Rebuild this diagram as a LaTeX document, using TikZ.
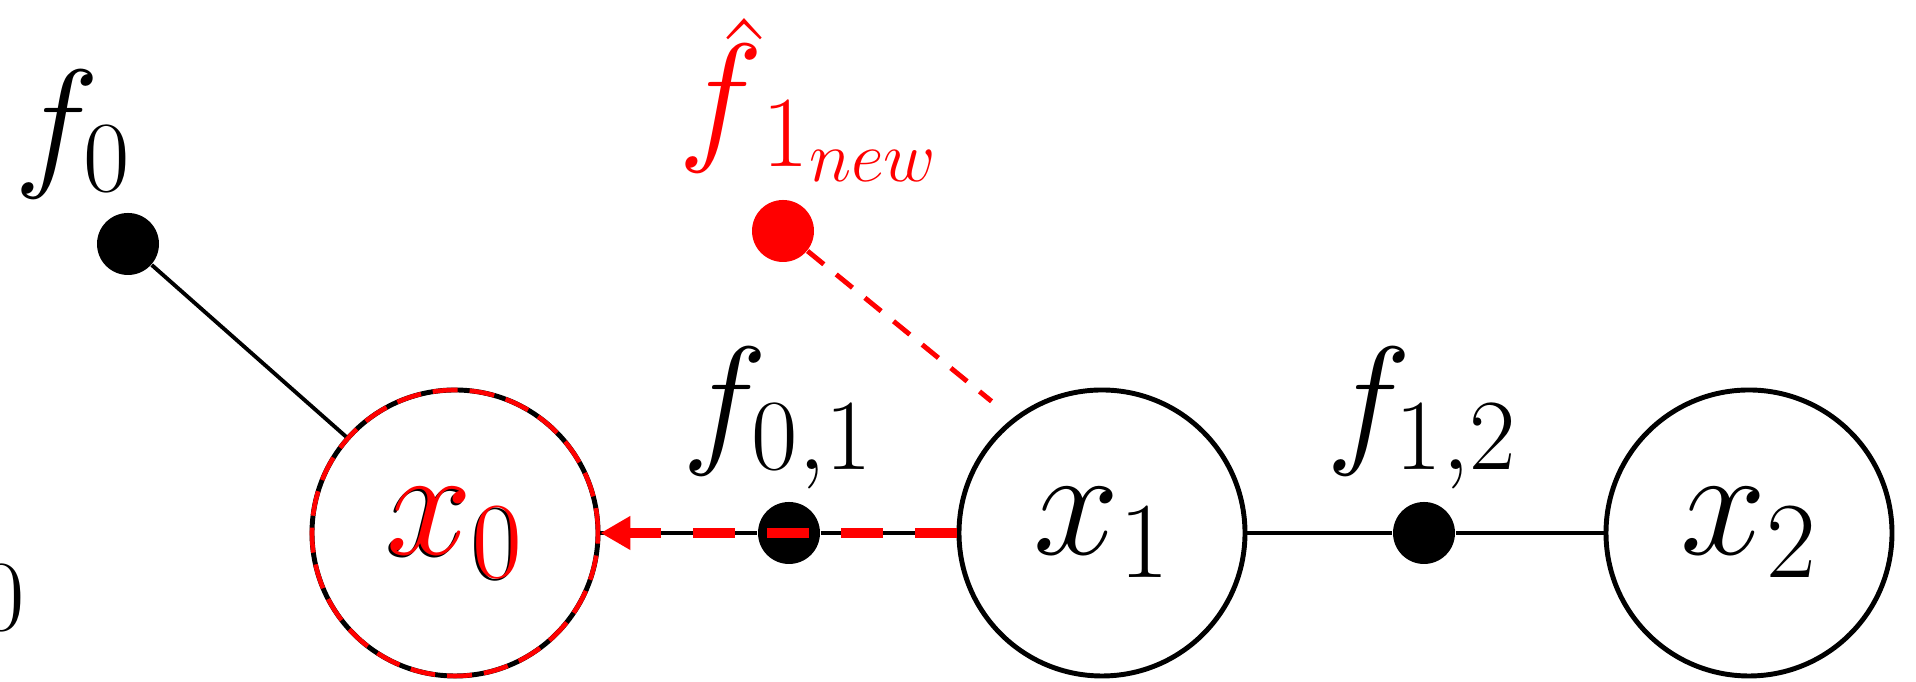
\RequirePackage{fix-cm}
\documentclass[tikz,border=0pt]{standalone}
\usepackage{amsmath,amssymb}
\usepackage{tikz}
\usetikzlibrary{arrows.meta}

\tikzset{
  varnode/.style={circle,draw,line width=1.4pt,minimum size=2.86cm,inner sep=0pt,
    font=\fontsize{44}{50}\selectfont},
  facnode/.style={circle,fill,minimum size=0.62cm,inner sep=0pt},
  faclbl/.style={font=\fontsize{41}{48}\selectfont},
  link/.style={line width=1.1pt},
}

\begin{document}
\begin{tikzpicture}
\useasboundingbox (0,0) rectangle (19.16,6.82);
\node[font=\fontsize{44}{50}\selectfont] (x0sh) at (4.535,1.475) {$x_0$};
\node[varnode,text=red] (x0) at (4.55,1.49) {$x_0$};
\node[varnode] (x1) at (11.02,1.49) {$x_1$};
\node[varnode] (x2) at (17.49,1.49) {$x_2$};
\draw[red,line width=1.3pt,dash pattern=on 0.25cm off 0.12cm] (x0.center) circle[radius=1.43cm];
\node[facnode] (f0) at (1.28,4.38) {};
\node[facnode] (f01) at (7.89,1.49) {};
\node[facnode] (f12) at (14.24,1.49) {};
\node[facnode,red] (f1new) at (7.83,4.51) {};
\draw[link] (f0) -- (x0);
\draw[link] (x0) -- (f01) -- (x1);
\draw[link] (x1) -- (f12) -- (x2);
\draw[red,line width=1.4pt,dash pattern=on 0.21cm off 0.16cm,shorten >=0.27cm] (f1new) -- (x1.128);
\draw[red,line width=2.8pt,dash pattern=on 0.42cm off 0.32cm,-{Triangle[length=0.3cm,width=0.32cm]}] (x1.west) -- (x0.east);
\node[faclbl] (f0lbl) at (0.73,5.48) {$f_0$};
\node[faclbl] (f01lbl) at (7.78,2.64) {$f_{0,1}$};
\node[faclbl] (f12lbl) at (14.22,2.64) {$f_{1,2}$};
\node[faclbl,text=red] (f1newlbl) at (8.09,5.82) {$\skew{6}{\hat}{\smash{f}\vphantom{t}}_{1_{new}}$};
\node[faclbl] (x0cut) at (0.02,0.84) {$\scriptstyle 0$};
\end{tikzpicture}
\end{document}
